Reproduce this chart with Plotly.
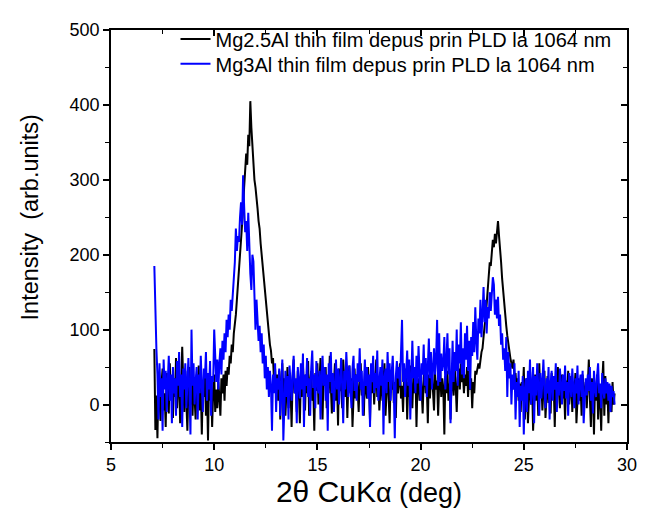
import plotly.graph_objects as go

# --- data ---
scan_start = 7.10   # deg 2theta
scan_step = 0.05    # deg

mg25al = [
    74, -34, 12, -45, 38, 5, -22, 30, 48, -8, 15, -30, 42, 20, -12, 55, 8, 28, -18, 35,
    10, 62, -5, 25, 40, -25, 18, 77, 30, -10, 45, 12, -35, 22, 50, 0, 35, -15, 28, 8,
    -20, 40, 15, 52, -8, 25, -40, 30, 10, 45, -15, 20, -48, 35, 5, 28, -30, 18, 40, -10,
    20, -5, 30, 10, -15, 35, 15, 40, 5, 45, 25, 50, 40, 65, 55, 80, 70, 95, 105, 120,
    140, 160, 175, 195, 215, 235, 260, 290, 310, 335, 320, 360, 345, 405, 370, 340, 320, 300, 290, 270,
    262, 245, 235, 215, 200, 180, 165, 150, 140, 120, 110, 95, 80, 72, 55, 62, 30, 48, 15, 40,
    5, 45, -20, 30, 55, 10, 35, -15, 25, 50, -5, 40, 20, -30, 35, 60, 15, 28, -10, 45,
    20, -25, 38, 10, 52, 25, -8, 40, 15, 58, -15, 30, 45, 5, 22, -35, 42, 18, 55, 0,
    30, 62, 10, -20, 45, 25, 50, -5, 35, 15, 65, 20, -12, 40, 28, 55, 5, 32, -28, 48,
    18, 38, -5, 60, 25, 10, 45, -18, 30, 52, 15, 35, -30, 22, 48, 8, 40, 20, -10, 35,
    55, 12, 30, -15, 42, 20, 8, 50, 25, -22, 38, 15, 45, 0, 28, 60, 10, 35, -8, 25,
    40, 5, 32, 55, -15, 22, 45, 12, -25, 38, 20, 50, 2, 30, -18, 42, 15, 28, 55, 8,
    25, -10, 40, 18, 48, -20, 30, 10, 52, 22, -5, 38, 15, 45, -30, 28, 35, 5, 42, 20,
    -12, 35, 50, 15, 25, -25, 40, 8, 30, 55, 18, -8, 42, 20, 32, -15, 28, 48, 10, 35,
    22, -40, 38, 15, 45, 5, 28, -20, 40, 30, 12, 50, 25, -10, 35, 48, 20, 55, 30, 42,
    15, 40, 25, 50, 10, 45, 20, 35, -5, 30, 15, 45, 40, 50, 55, 48, 65, 70, 75, 95,
    105, 115, 135, 150, 170, 190, 185, 205, 220, 210, 228, 215, 235, 245, 225, 210, 190, 168, 150, 130,
    115, 105, 92, 80, 70, 62, 55, 48, 60, 38, 42, 20, 35, 5, 28, -10, 30, 15, 50, -20,
    10, 35, -25, 22, 45, 0, 30, -35, 18, 40, 5, 28, -15, 55, 12, 32, -8, 25, 45, -18,
    20, 38, 2, 30, -12, 42, 15, 25, -30, 35, 10, 50, 18, -5, 28, 40, 8, 22, -20, 32,
    12, 45, 0, 25, 38, -10, 30, 15, 42, -25, 20, 35, 5, 28, -15, 40, 18, 10, 30, -5,
    25, 60, 10, -30, 35, 15, -40, 28, 5, 40, -20, 22, 8, -35, 30, 58, -15, 38, 0, 20,
    -25, 25, 5, -10, 30, 0, 15,
]

mg3al = [
    185, 100, 74, 40, -20, 55, 10, 35, -35, 60, 20, 45, -10, 30, 65, 5, 40, -25, 50, 15,
    35, -15, 58, 25, 70, 10, 40, -30, 48, 20, 55, -5, 35, 62, 15, -40, 100, 25, 55, 0,
    30, 50, -20, 40, 15, 65, 25, -10, 48, 35, 70, 5, 42, 20, 58, -15, 38, 30, 100, 45,
    30, 60, 20, 55, 75, 40, 85, 60, 95, 70, 113, 90, 120, 100, 140, 125, 144, 165, 190, 235,
    205, 225, 217, 250, 270, 240, 306, 265, 230, 245, 205, 256, 210, 175, 153, 200, 191, 130, 100, 140,
    115, 85, 105, 70, 95, 55, 80, 35, 65, 20, 50, 10, 45, 25, -35, 40, 15, 55, -10, 35,
    20, 48, -15, 30, 60, -48, 25, 45, 10, 38, -20, 52, 28, 5, 42, 65, 15, 35, -25, 50,
    30, 8, 55, 20, 68, -30, 40, 25, 62, 10, 35, -15, 48, 72, 22, 40, -5, 58, 30, 15,
    45, -20, 38, 65, 25, 50, 5, 40, -35, 55, 30, 70, 15, 42, -10, 35, 60, 20, 48, 0,
    38, 62, 25, -25, 45, 20, 70, 35, 10, 52, 28, -5, 48, 65, 18, 40, 5, 55, 30, 75,
    20, 45, -15, 35, 60, 25, 50, 8, 40, -30, 55, 30, 65, 15, 42, 22, 72, 5, 38, 50,
    25, 60, -40, 35, 48, 15, 70, 30, 55, 5, 42, 65, 20, -45, 38, 58, 35, 50, 25, 68,
    113, 30, 55, 10, 45, 72, 25, 60, -20, 40, 85, 35, 50, 15, 65, 28, 78, 42, 5, 55,
    40, 80, 25, 62, 10, 50, 88, 35, 70, 20, 55, 75, 40, 60, 113, 25, 95, 30, 68, 45,
    55, 90, 20, 70, 95, 40, 75, -25, 60, 85, 30, 70, 45, 100, 25, 80, 55, 110, 40, 75,
    35, 95, 60, 105, 45, 85, 20, 90, 65, 110, 70, 130, 85, 60, 115, 95, 140, 90, 120, 157,
    110, 140, 95, 130, 115, 150, 125, 145, 170, 160, 120, 140, 115, 144, 105, 120, 80, 95, 60, 75,
    45, 90, 10, 70, 35, 55, 0, 40, 20, 55, -20, 30, 10, 45, -30, 25, 5, 38, -40, 20,
    35, -10, 45, 15, 60, 0, 28, 50, -25, 38, 12, 55, 25, -15, 42, 8, 30, 60, 18, -5,
    35, 15, 50, -20, 28, 45, 5, 38, 20, 55, -10, 30, 12, 48, 25, 0, 40, 18, 52, 8,
    30, -15, 42, 20, 10, 48, 25, -5, 35, 15, 52, 0, 28, 40, 10, 45, -25, 22, 35, 12,
    40, 18, 50, 5, 30, -12, 45, 22, 10, 38, 55, 15, 28, -5, 42, 20, 8, 35, 15, 30,
    5, 28, -10, 25, 10, 18, 0,
]

series_names = [
    "Mg2.5Al thin film depus prin PLD la 1064 nm",
    "Mg3Al thin film depus prin PLD la 1064 nm",
]
x_ticks = [5, 10, 15, 20, 25, 30]
y_ticks = [0, 100, 200, 300, 400, 500]


def angles(n):
    return [round(scan_start + scan_step * i, 3) for i in range(n)]


FONT = "Liberation Sans, Arial, sans-serif"

fig = go.Figure()
fig.add_trace(go.Scatter(x=angles(len(mg25al)), y=mg25al, mode="lines",
                         name=series_names[0], legend="legend",
                         line=dict(color="#000000", width=2)))
fig.add_trace(go.Scatter(x=angles(len(mg3al)), y=mg3al, mode="lines",
                         name=series_names[1], legend="legend2",
                         line=dict(color="#0000FF", width=2)))
# helper trace to carry the mirrored (inside-tick) axes
fig.add_trace(go.Scatter(x=[None], y=[None], xaxis="x2", yaxis="y2",
                         showlegend=False, hoverinfo="skip"))

axis_common = dict(showgrid=False, zeroline=False, linecolor="black", linewidth=1.6,
                   tickcolor="black", tickwidth=1.6)
leg_common = dict(xanchor="left", yanchor="middle", bgcolor="rgba(0,0,0,0)",
                  font=dict(size=20, family=FONT), itemwidth=30)

fig.update_layout(
    width=651, height=510,
    margin=dict(l=103, r=32, t=12, b=76),
    paper_bgcolor="white", plot_bgcolor="white",
    font=dict(family=FONT, size=18, color="black"),
    showlegend=True,
    legend=dict(x=0.125, y=0.978, **leg_common),
    legend2=dict(x=0.125, y=0.918, **leg_common),
    xaxis=dict(range=[5, 30], tickvals=x_ticks, ticks="outside", ticklen=6,
               minor=dict(dtick=2.5, tick0=5, ticks="outside", ticklen=4,
                          tickcolor="black", tickwidth=1.3),
               tickfont=dict(size=18, family=FONT),
               title=dict(text="2θ CuK<span style='font-size:27px'>α (deg)</span>",
                          font=dict(size=30, family=FONT), standoff=4),
               **axis_common),
    yaxis=dict(range=[-50, 500], tickvals=y_ticks, ticks="outside", ticklen=6,
               minor=dict(dtick=50, tick0=0, ticks="outside", ticklen=4,
                          tickcolor="black", tickwidth=1.3),
               tickfont=dict(size=18, family=FONT),
               **axis_common),
    xaxis2=dict(range=[5, 30], overlaying="x", side="top", tickvals=x_ticks,
                ticks="inside", ticklen=6, showticklabels=False,
                minor=dict(dtick=2.5, tick0=5, ticks="inside", ticklen=4,
                           tickcolor="black", tickwidth=1.3),
                **axis_common),
    yaxis2=dict(range=[-50, 500], overlaying="y", side="right", tickvals=y_ticks,
                ticks="inside", ticklen=6, showticklabels=False,
                minor=dict(dtick=50, tick0=0, ticks="inside", ticklen=4,
                           tickcolor="black", tickwidth=1.3),
                **axis_common),
    annotations=[dict(text="Intensity\u00a0\u00a0(arb.units)", textangle=-90,
                      xref="paper", yref="paper", x=-0.157, y=0.545,
                      xanchor="center", yanchor="middle", showarrow=False,
                      font=dict(size=23.5, family=FONT, color="black"))],
)

fig.write_html("out.html")
